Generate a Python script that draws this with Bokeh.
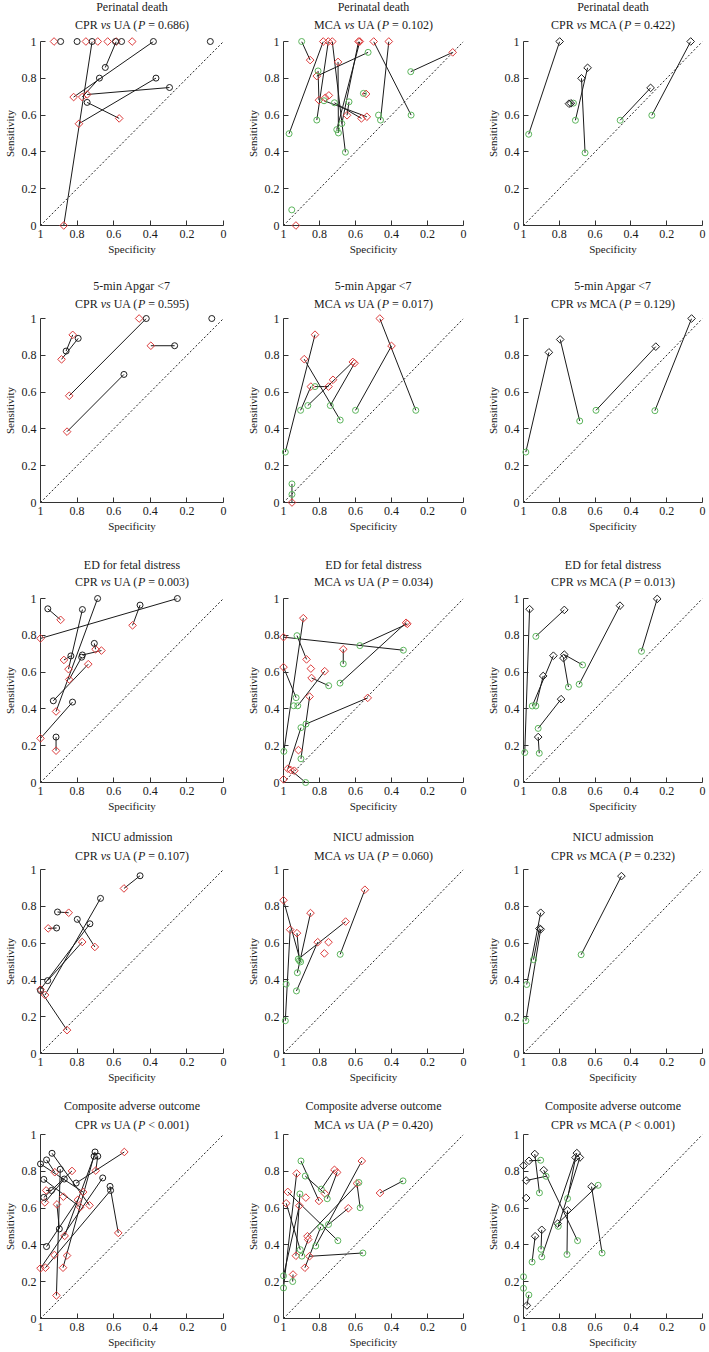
import math
from bokeh.plotting import figure
from bokeh.models import Range1d, FixedTicker
from bokeh.core.properties import value
from bokeh.layouts import column, row
from bokeh.embed import file_html
from bokeh.resources import INLINE

FONT = "Liberation Serif"
BLACK = "#1e1e1e"
RED = "#dc3b3b"
GREEN = "#5cb55c"
AXIS = "#333333"

outcomes = ["Perinatal death", "5-min Apgar <7", "ED for fetal distress",
            "NICU admission", "Composite adverse outcome"]
comparisons = [("CPR", "UA"), ("MCA", "UA"), ("CPR", "MCA")]
p_texts = [["= 0.686", "= 0.102", "= 0.422"],
           ["= 0.595", "= 0.017", "= 0.129"],
           ["= 0.003", "= 0.034", "= 0.013"],
           ["= 0.107", "= 0.060", "= 0.232"],
           ["< 0.001", "= 0.420", "< 0.001"]]

tick_values = [0, 0.2, 0.4, 0.6, 0.8, 1]
tick_labels = ["0", "0.2", "0.4", "0.6", "0.8", "1"]
chance_x = [1, 0]
chance_y = [0, 1]

# ---------------- data: (specificity, sensitivity) of test a and test b per study; None = not shown
# Perinatal death, CPR vs UA
pd_cu_a_spec = [0.718, 0.646, 0.383, 0.678, 0.295, 0.369, 0.745, 0.890, 0.800, 0.590, 0.557, 0.072, None, None, None, None, None]
pd_cu_a_sens = [1.000, 0.859, 1.000, 0.801, 0.750, 0.801, 0.669, 1.000, 1.000, 1.000, 1.000, 1.000, None, None, None, None, None]
pd_cu_b_spec = [0.873, 0.586, 0.819, 0.772, 0.745, 0.790, 0.570, None, None, None, None, None, 0.926, 0.752, 0.687, 0.633, 0.499]
pd_cu_b_sens = [0.000, 1.000, 0.698, 0.698, 0.712, 0.553, 0.582, None, None, None, None, None, 1.000, 1.000, 1.000, 1.000, 1.000]
# Perinatal death, MCA vs UA
pd_mu_a_spec = [0.899, 0.969, 0.815, 0.656, 0.530, 0.695, 0.676, 0.704, 0.775, 0.717, 0.291, 0.461, 0.293, 0.636, 0.556, 0.808, 0.954, 0.472, None, None, None]
pd_mu_a_sens = [1.000, 0.499, 0.573, 0.398, 0.941, 0.503, 0.554, 0.521, 0.678, 0.667, 0.600, 0.573, 0.836, 0.672, 0.718, 0.840, 0.085, 0.600, None, None, None]
pd_mu_b_spec = [0.852, 0.779, 0.751, 0.729, 0.815, 0.697, 0.583, 0.576, 0.537, 0.567, 0.499, 0.415, 0.060, 0.647, 0.541, 0.803, None, None, 0.931, 0.768, 0.748]
pd_mu_b_sens = [0.899, 1.000, 1.000, 1.000, 0.812, 0.889, 1.000, 1.000, 0.591, 0.582, 1.000, 1.000, 0.941, 0.599, 0.715, 0.681, None, None, 0.000, 0.694, 0.707]
# Perinatal death, CPR vs MCA
pd_cm_a_spec = [0.798, 0.676, 0.642, 0.290, 0.066, 0.735, 0.746]
pd_cm_a_sens = [1.000, 0.800, 0.857, 0.748, 1.000, 0.664, 0.662]
pd_cm_b_spec = [0.971, 0.656, 0.710, 0.460, 0.283, 0.721, None]
pd_cm_b_sens = [0.496, 0.395, 0.572, 0.572, 0.599, 0.665, None]

# 5-min Apgar <7, CPR vs UA
ap_cu_a_spec = [0.422, 0.544, 0.267, 0.860, 0.794, 0.064, None]
ap_cu_a_sens = [1.000, 0.696, 0.852, 0.823, 0.892, 1.000, None]
ap_cu_b_spec = [0.843, 0.855, 0.397, 0.824, 0.885, None, 0.461]
ap_cu_b_sens = [0.580, 0.385, 0.852, 0.911, 0.778, None, 1.000]
# 5-min Apgar <7, MCA vs UA
ap_mu_a_spec = [0.990, 0.685, 0.905, 0.865, 0.825, 0.740, 0.265, 0.600, 0.953, 0.953, None]
ap_mu_a_sens = [0.274, 0.448, 0.501, 0.527, 0.630, 0.527, 0.501, 0.501, 0.101, 0.044, None]
ap_mu_b_spec = [0.825, 0.885, 0.848, 0.615, 0.750, 0.605, 0.465, 0.400, 0.953, None, 0.725]
ap_mu_b_sens = [0.912, 0.779, 0.630, 0.764, 0.630, 0.757, 1.000, 0.851, 0.000, None, 0.667]
# 5-min Apgar <7, CPR vs MCA
ap_cm_a_spec = [0.858, 0.795, 0.261, 0.061]
ap_cm_a_sens = [0.816, 0.886, 0.847, 1.000]
ap_cm_b_spec = [0.987, 0.686, 0.595, 0.266]
ap_cm_b_sens = [0.274, 0.443, 0.501, 0.499]

# ED for fetal distress, CPR vs UA
ed_cu_a_spec = [0.960, 0.252, 0.456, 0.771, 0.688, 0.706, 0.771, 0.930, 0.834, 0.825, 0.915, 0.775]
ed_cu_a_sens = [0.944, 1.000, 0.964, 0.940, 1.000, 0.756, 0.693, 0.444, 0.688, 0.437, 0.247, 0.681]
ed_cu_b_spec = [0.890, 1.000, 0.497, 0.847, 0.915, 0.699, 0.667, 0.739, 0.872, 1.000, 0.915, 0.843]
ed_cu_b_sens = [0.884, 0.783, 0.854, 0.616, 0.386, 0.724, 0.717, 0.643, 0.666, 0.240, 0.173, 0.560]
# ED for fetal distress, MCA vs UA
ed_mu_a_spec = [0.334, 0.998, 0.925, 0.930, 0.921, 0.749, 0.668, 0.686, 0.576, 0.875, 0.903, 0.903, 0.877, 0.943, None, None, None, None]
ed_mu_a_sens = [0.719, 0.169, 0.798, 0.461, 0.417, 0.526, 0.645, 0.540, 0.744, 0.318, 0.129, 0.298, 0.000, 0.417, None, None, None, None]
ed_mu_b_spec = [1.000, 0.890, 0.872, 1.000, 0.771, 0.844, 0.668, 0.319, 0.312, 0.532, 0.855, 0.976, 0.960, None, 1.000, 0.917, 0.848, 0.940]
ed_mu_b_sens = [0.790, 0.893, 0.669, 0.627, 0.605, 0.568, 0.724, 0.868, 0.862, 0.460, 0.467, 0.075, 0.068, None, 0.017, 0.176, 0.619, 0.064]
# ED for fetal distress, CPR vs MCA
ed_cm_a_spec = [0.966, 0.772, 0.833, 0.890, 0.772, 0.777, 0.461, 0.253, 0.790, 0.918]
ed_cm_a_sens = [0.942, 0.938, 0.689, 0.579, 0.695, 0.676, 0.961, 0.998, 0.453, 0.247]
ed_cm_b_spec = [0.993, 0.931, 0.951, 0.931, 0.670, 0.749, 0.689, 0.341, 0.918, 0.912]
ed_cm_b_sens = [0.163, 0.794, 0.416, 0.416, 0.639, 0.519, 0.534, 0.713, 0.294, 0.159]

# NICU admission, CPR vs UA
ni_cu_a_spec = [0.456, 0.907, 0.912, 0.799, 0.672, 0.730, 0.961, 1.000]
ni_cu_a_sens = [0.966, 0.769, 0.682, 0.729, 0.843, 0.705, 0.396, 0.342]
ni_cu_b_spec = [0.544, 0.846, 0.958, 0.703, 0.975, 1.000, 0.772, 0.855]
ni_cu_b_sens = [0.897, 0.765, 0.680, 0.579, 0.318, 0.349, 0.606, 0.127]
# NICU admission, MCA vs UA
ni_mu_a_spec = [0.905, 0.990, 0.912, 0.923, 0.918, 0.928, 0.685, 0.985, None, None]
ni_mu_a_sens = [0.498, 0.178, 0.505, 0.439, 0.513, 0.340, 0.539, 0.377, None, None]
ni_mu_b_spec = [1.000, 0.963, 0.925, 0.850, 0.655, 0.810, 0.548, None, 0.773, 0.750]
ni_mu_b_sens = [0.833, 0.673, 0.654, 0.763, 0.717, 0.605, 0.890, None, 0.544, 0.605]
# NICU admission, CPR vs MCA
ni_cm_a_spec = [0.904, 0.911, 0.904, 0.453]
ni_cm_a_sens = [0.765, 0.679, 0.675, 0.964]
ni_cm_b_spec = [0.982, 0.944, 0.987, 0.678]
ni_cm_b_sens = [0.375, 0.510, 0.178, 0.537]

# Composite adverse outcome, CPR vs UA
co_cu_a_spec = [1.000, 0.967, 0.937, 0.892, 0.982, 0.982, 0.940, 0.870, 0.805, 0.702, 0.707, 0.687, 0.660, 0.620, 0.617, 0.897, 0.967, None, None, None]
co_cu_a_sens = [0.840, 0.862, 0.898, 0.811, 0.756, 0.658, 0.696, 0.758, 0.736, 0.905, 0.882, 0.882, 0.764, 0.718, 0.696, 0.487, 0.391, None, None, None]
co_cu_b_spec = [0.767, 0.922, 0.732, 0.913, 0.783, 0.828, 0.969, 0.976, 0.542, 0.877, 0.868, 0.698, 1.000, 0.575, 0.973, 0.910, 0.796, 0.875, 0.924, 0.855]
co_cu_b_sens = [0.687, 0.795, 0.615, 0.125, 0.605, 0.802, 0.696, 0.631, 0.905, 0.276, 0.449, 0.804, 0.273, 0.465, 0.276, 0.620, 0.645, 0.662, 0.345, 0.342]
# Composite adverse outcome, MCA vs UA
co_mu_a_spec = [0.903, 0.879, 0.790, 0.757, 0.698, 0.907, 0.821, 0.574, 0.581, 0.750, 1.000, 1.000, 0.559, 0.793, 0.909, 0.336, 0.949, 0.898, None]
co_mu_a_sens = [0.856, 0.774, 0.703, 0.651, 0.423, 0.374, 0.394, 0.602, 0.739, 0.511, 0.232, 0.166, 0.356, 0.498, 0.677, 0.748, 0.201, 0.339, None]
co_mu_b_spec = [0.803, 0.770, 0.717, 0.702, 0.976, 0.985, 0.565, 0.592, 0.867, 0.640, 0.912, 0.927, 0.856, 0.881, 0.931, 0.464, 0.947, 0.863, 0.876]
co_mu_b_sens = [0.639, 0.679, 0.808, 0.794, 0.688, 0.626, 0.856, 0.734, 0.447, 0.599, 0.613, 0.788, 0.338, 0.276, 0.341, 0.682, 0.239, 0.429, 0.657]
# Composite adverse outcome, CPR vs MCA
co_cm_a_spec = [0.937, 0.969, 0.985, 0.887, 0.702, 0.709, 0.685, 0.754, 0.809, 0.620, 0.898, 0.935, 0.981, 1.000, 0.985, None, None]
co_cm_a_sens = [0.894, 0.857, 0.750, 0.806, 0.899, 0.875, 0.875, 0.587, 0.516, 0.717, 0.482, 0.447, 0.071, 0.831, 0.655, None, None]
co_cm_b_spec = [0.911, 0.904, 0.874, 0.698, 0.898, 0.754, 0.806, 0.757, 0.583, 0.561, 0.902, 0.952, 0.970, None, None, 1.000, 1.000]
co_cm_b_sens = [0.683, 0.860, 0.773, 0.423, 0.335, 0.652, 0.501, 0.348, 0.724, 0.356, 0.376, 0.307, 0.128, None, None, 0.227, 0.164]

panel_data = [
    [(pd_cu_a_spec, pd_cu_a_sens, pd_cu_b_spec, pd_cu_b_sens),
     (pd_mu_a_spec, pd_mu_a_sens, pd_mu_b_spec, pd_mu_b_sens),
     (pd_cm_a_spec, pd_cm_a_sens, pd_cm_b_spec, pd_cm_b_sens)],
    [(ap_cu_a_spec, ap_cu_a_sens, ap_cu_b_spec, ap_cu_b_sens),
     (ap_mu_a_spec, ap_mu_a_sens, ap_mu_b_spec, ap_mu_b_sens),
     (ap_cm_a_spec, ap_cm_a_sens, ap_cm_b_spec, ap_cm_b_sens)],
    [(ed_cu_a_spec, ed_cu_a_sens, ed_cu_b_spec, ed_cu_b_sens),
     (ed_mu_a_spec, ed_mu_a_sens, ed_mu_b_spec, ed_mu_b_sens),
     (ed_cm_a_spec, ed_cm_a_sens, ed_cm_b_spec, ed_cm_b_sens)],
    [(ni_cu_a_spec, ni_cu_a_sens, ni_cu_b_spec, ni_cu_b_sens),
     (ni_mu_a_spec, ni_mu_a_sens, ni_mu_b_spec, ni_mu_b_sens),
     (ni_cm_a_spec, ni_cm_a_sens, ni_cm_b_spec, ni_cm_b_sens)],
    [(co_cu_a_spec, co_cu_a_sens, co_cu_b_spec, co_cu_b_sens),
     (co_mu_a_spec, co_mu_a_sens, co_mu_b_spec, co_mu_b_sens),
     (co_cm_a_spec, co_cm_a_sens, co_cm_b_spec, co_cm_b_sens)],
]

# marker style of test a / test b for each comparison column
col_styles = [
    (("circle", BLACK), ("diamond", RED)),
    (("circle", GREEN), ("diamond", RED)),
    (("diamond", BLACK), ("circle", GREEN)),
]

# ---------------- layout (page origin at 0,0)
col_w = [243, 240, 226]
col_left = [39, 38, 38]
plot_w = [184, 182, 181]
PLOT_H = 184
row_top = [41, 38, 40, 38, 36]
row_bottom = [55, 56, 49, 45, 32]
title_off = [(35, 17), (33, 15), (34, 17), (33, 14), (29, 10)]

TITLE_SIZE = 12
REG_W = {" ": 250, "(": 333, ")": 333, ".": 250, "=": 564, "<": 564,
         "A": 722, "C": 667, "M": 889, "P": 556, "R": 667, "U": 722}
for d in "0123456789":
    REG_W[d] = 500
ITA_W = {"v": 444, "s": 389, "P": 611}


def tw(s, italic):
    table = ITA_W if italic else REG_W
    return sum(table.get(ch, 500) for ch in s) * TITLE_SIZE / 1000.0


def add_text(p, text, x_off, y_off, italic=False, align="left"):
    p.text(x=[0.5], y=[1], text=[text], x_offset=x_off, y_offset=-y_off,
           text_align=align, text_baseline="middle",
           text_font=value(FONT), text_font_size=value(f"{TITLE_SIZE}px"),
           text_font_style=value("italic" if italic else "normal"),
           text_color="#1a1a1a", level="overlay")


def draw_markers(p, xs, ys, style):
    kind, color = style
    if not xs:
        return
    if kind == "circle":
        p.scatter(xs, ys, marker="circle", size=6, line_color=color,
                  line_width=1, fill_color=None, level="overlay")
    else:
        p.scatter(xs, ys, marker="square", angle=math.pi / 4, size=5.4,
                  line_color=color, line_width=1, fill_color=None,
                  level="overlay")


def make_panel(r, c):
    w = col_w[c]
    h = row_top[r] + PLOT_H + row_bottom[r]
    p = figure(width=w, height=h, x_range=Range1d(1, 0), y_range=Range1d(0, 1),
               output_backend="svg", toolbar_location=None, tools="",
               min_border_left=col_left[c], min_border_right=w - col_left[c] - plot_w[c],
               min_border_top=row_top[r], min_border_bottom=row_bottom[r],
               background_fill_color="white", border_fill_color="white")
    p.outline_line_color = None
    p.xgrid.grid_line_color = None
    p.ygrid.grid_line_color = None
    overrides = dict(zip(tick_values, tick_labels))
    for ax in (p.xaxis[0], p.yaxis[0]):
        ax.ticker = FixedTicker(ticks=tick_values)
        ax.major_label_overrides = overrides
        ax.axis_line_color = AXIS
        ax.axis_line_width = 1
        ax.major_tick_line_color = AXIS
        ax.major_tick_in = 5
        ax.major_tick_out = 0
        ax.minor_tick_line_color = None
        ax.major_label_text_font = FONT
        ax.major_label_text_font_size = "12px"
        ax.major_label_text_color = "#1a1a1a"
        ax.axis_label_text_font = FONT
        ax.axis_label_text_font_size = "11px"
        ax.axis_label_text_font_style = "normal"
        ax.axis_label_text_color = "#1a1a1a"
        ax.major_label_standoff = 4
    p.xaxis.axis_label = "Specificity"
    p.yaxis.axis_label = "Sensitivity"
    p.xaxis.axis_label_standoff = 2
    p.yaxis.axis_label_standoff = 3

    # chance line
    p.line(chance_x, chance_y, line_color="#222222", line_width=1, line_dash="2 2")

    a_spec, a_sens, b_spec, b_sens = panel_data[r][c]
    x0, y0, x1, y1 = [], [], [], []
    for i in range(len(a_spec)):
        if a_spec[i] is not None and b_spec[i] is not None:
            x0.append(a_spec[i]); y0.append(a_sens[i])
            x1.append(b_spec[i]); y1.append(b_sens[i])
    p.segment(x0=x0, y0=y0, x1=x1, y1=y1, line_color="#1a1a1a", line_width=1)

    a_x = [v for v in a_spec if v is not None]
    a_y = [v for v in a_sens if v is not None]
    b_x = [v for v in b_spec if v is not None]
    b_y = [v for v in b_sens if v is not None]
    sa, sb = col_styles[c]
    draw_markers(p, b_x, b_y, sb)
    draw_markers(p, a_x, a_y, sa)

    # two-line title (with italic "vs" and "P")
    off1, off2 = title_off[r]
    add_text(p, outcomes[r], 0, off1, align="center")
    ta, tb = comparisons[c]
    pieces = [(ta + " ", False), ("vs", True), (" " + tb + " (", False),
              ("P", True), (" " + p_texts[r][c] + ")", False)]
    total = sum(tw(s, it) for s, it in pieces)
    cursor = -total / 2.0
    space = tw(" ", False)
    for s, it in pieces:
        lead = len(s) - len(s.lstrip(" "))
        add_text(p, s.strip(), cursor + lead * space, off2, italic=it)
        cursor += tw(s, it)
    return p


rows = []
for r in range(5):
    rows.append(row(*[make_panel(r, c) for c in range(3)]))
layout = column(*rows)

open("out.html", "w").write(file_html(layout, INLINE))
